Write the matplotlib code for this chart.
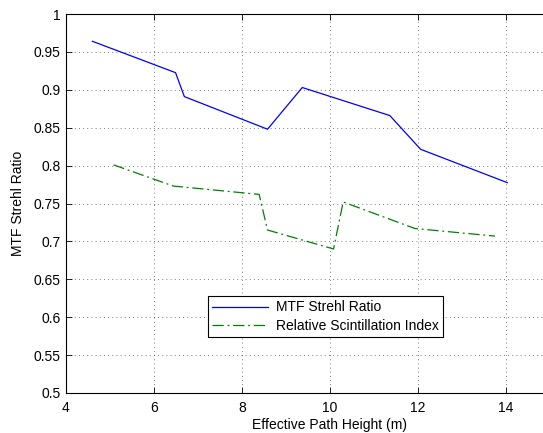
import matplotlib
matplotlib.use("Agg")
import matplotlib.pyplot as plt

plt.rcParams['font.family'] = ['Liberation Sans', 'DejaVu Sans']

# Data
mtf_x = [4.60, 6.49, 6.69, 8.58, 9.37, 11.36, 12.06, 14.03]
mtf_y = [0.964, 0.9226, 0.891, 0.848, 0.903, 0.866, 0.8215, 0.7775]

rsi_x = [5.08, 6.44, 8.39, 8.58, 10.08, 10.30, 11.93, 13.75]
rsi_y = [0.801, 0.773, 0.762, 0.715, 0.690, 0.752, 0.717, 0.707]

x_ticks = [4, 6, 8, 10, 12, 14]
y_ticks = [0.5, 0.55, 0.6, 0.65, 0.7, 0.75, 0.8, 0.85, 0.9, 0.95, 1]
y_tick_labels = ['0.5', '0.55', '0.6', '0.65', '0.7', '0.75', '0.8', '0.85', '0.9', '0.95', '1']

fig = plt.figure(figsize=(5.43, 4.33), dpi=100)
ax = fig.add_axes([66/543, 40/433, (594-66)/543, (393-14)/433])

ax.plot(mtf_x, mtf_y, color=(0, 0, 1), lw=0.9, label='MTF Strehl Ratio')
ax.plot(rsi_x, rsi_y, color=(0, 0.5, 0), lw=0.9, linestyle=(0, (9, 3, 1.5, 3)),
        label='Relative Scintillation Index')

ax.set_xlim(4, 16)
ax.set_ylim(0.5, 1)
ax.set_xticks(x_ticks)
ax.set_xticklabels([str(t) for t in x_ticks])
ax.set_yticks(y_ticks)
ax.set_yticklabels(y_tick_labels)
ax.tick_params(direction='in', length=4, width=0.6, labelsize=10, top=True, right=True)
ax.tick_params(axis='x', pad=6)
ax.tick_params(axis='y', pad=4)
ax.grid(True, linestyle=(0, (1, 4)), color='#555555', linewidth=0.6)
for s in ax.spines.values():
    s.set_linewidth(0.8)

ax.set_xlabel('Effective Path Height (m)', fontsize=10, labelpad=2)
ax.set_ylabel('MTF Strehl Ratio', fontsize=10, labelpad=6)

leg = ax.legend(loc='center', bbox_to_anchor=(325.5/543, 1 - 316.5/433),
                bbox_transform=fig.transFigure, fontsize=10, frameon=True,
                fancybox=False, edgecolor='black', framealpha=1,
                handlelength=4, borderpad=0.3, labelspacing=0.3, handletextpad=0.6)
leg.get_frame().set_linewidth(0.8)

fig.savefig('out.png', dpi=100)
